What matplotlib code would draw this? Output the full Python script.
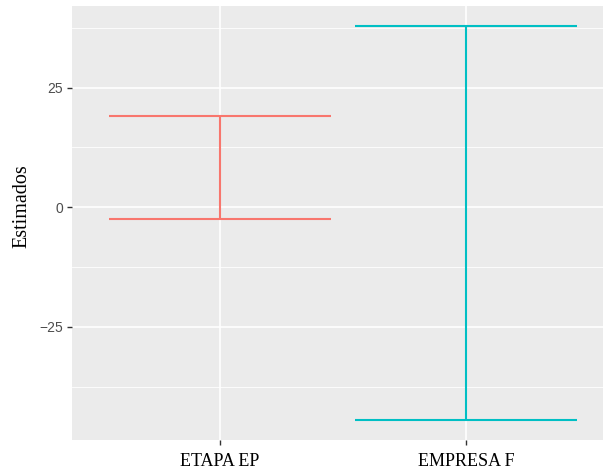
import matplotlib
matplotlib.use("Agg")
import matplotlib.pyplot as plt
import numpy as np

categories = ["ETAPA EP", "EMPRESA F"]
lower = [-2.5, -44.4]
upper = [19.1, 37.85]
colors = ["#F8766D", "#00BFC4"]
y_ticks = [-25, 0, 25]
y_minor = [-37.5, -12.5, 12.5, 37.5]

fig = plt.figure(figsize=(6.03, 4.72), dpi=100)
ax = fig.add_axes([72.4 / 603, 32.4 / 472, (613.6 - 72.4) / 603, (439.6 - 6.3) / 472])
ax.set_facecolor("#EBEBEB")

x = np.arange(1, len(categories) + 1)
half = 0.45
for xi, lo, hi, c in zip(x, lower, upper, colors):
    ax.vlines(xi, lo, hi, color=c, lw=1.5, zorder=3)
    ax.hlines([lo, hi], xi - half, xi + half, color=c, lw=1.5, zorder=3)

rng = max(upper) - min(lower)
ax.set_ylim(min(lower) - 0.05 * rng, max(upper) + 0.05 * rng)
ax.set_xlim(0.4, len(categories) + 0.6)

ax.set_yticks(y_ticks)
ax.set_yticklabels(["\u221225" if v < 0 else str(v) for v in y_ticks])
ax.set_yticks(y_minor, minor=True)
ax.set_xticks(x)
ax.set_xticklabels(categories, fontfamily="Liberation Serif", fontsize=13, color="black")

for lab in ax.get_yticklabels():
    lab.set_fontfamily("Liberation Sans")
    lab.set_fontsize(10)
    lab.set_color("#4D4D4D")

ax.grid(which="major", color="white", lw=1.2, zorder=1)
ax.grid(which="minor", axis="y", color="white", lw=0.6, zorder=1)
ax.set_axisbelow(True)
ax.tick_params(which="major", length=3.5, width=1, color="#333333", pad=3)
ax.tick_params(which="minor", length=0)
ax.tick_params(axis="x", pad=6)
for s in ax.spines.values():
    s.set_visible(False)

ax.set_ylabel("Estimados", fontfamily="Liberation Serif", fontsize=14.5, color="black")
ax.yaxis.set_label_coords(-0.0765, 0.539)

fig.savefig("out.png", dpi=100)
